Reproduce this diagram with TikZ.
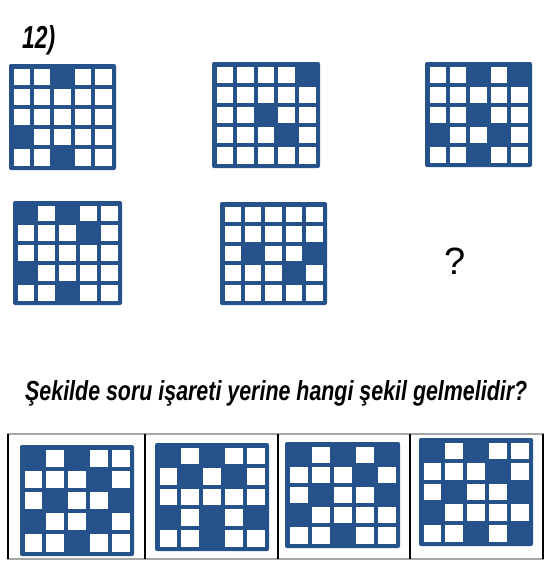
\documentclass[tikz,border=0pt]{standalone}
\usepackage{fontspec}
\setmainfont{Liberation Sans}
\definecolor{qblue}{RGB}{38,82,140}

% grid: left, top, width, height, filled cells (row/col)
\newcommand{\cellgrid}[5]{%
  \fill[qblue, rounded corners=2] (#1,-#2) rectangle ++(#3,-#4);
  \pgfmathsetmacro\qcw{(#3-25)/5}
  \pgfmathsetmacro\qch{(#4-25)/5}
  \foreach \qr in {1,...,5}
    \foreach \qc in {1,...,5}
      \fill[white] ({#1+4.5+(\qc-1)*(\qcw+4)},{-#2-4.5-(\qr-1)*(\qch+4)}) rectangle ++(\qcw,-\qch);
  \foreach \qr/\qc in {#5}
    \fill[qblue] ({#1+4.5+(\qc-1)*(\qcw+4)-0.5},{-#2-4.5-(\qr-1)*(\qch+4)+0.5}) rectangle ++(\qcw+1,-\qch-1);
}

\begin{document}
\begin{tikzpicture}[x=1pt, y=1pt]
    \useasboundingbox (0,0) rectangle (547,-568);
    \node[anchor=base west, inner sep=0] (num) at (22,-48)
        {\resizebox{33pt}{23pt}{\bfseries\itshape 12)}};
    % the sequence
    \cellgrid{9}{64}{107}{106}{1/3,4/1,5/3}
    \cellgrid{212}{62}{108}{106}{1/5,3/3,4/4}
    \cellgrid{425}{62}{107}{105}{1/3,1/5,3/3,4/1,4/4,5/3}
    \cellgrid{13}{201}{109}{104}{1/1,1/3,2/4,4/1,5/3}
    \cellgrid{220}{202}{107}{103}{3/2,3/5,4/4}
    \node[inner sep=0] (qmark) at (455,-261) {\fontsize{38}{38}\selectfont ?};
    \node[anchor=base west, inner sep=0] (question) at (25,-400)
        {\resizebox{502pt}{20pt}{\bfseries\itshape Şekilde soru işareti yerine hangi şekil gelmelidir?}};
    % the choices
    \draw[gray!70, line width=1.2] (8,-434) rectangle (543,-559);
    \foreach \x in {8,145,278,410,543}
        \draw[black, line width=1.2] (\x,-434) -- (\x,-559);
    \cellgrid{20}{445}{114}{111}{1/1,1/3,2/4,3/2,3/5,4/1,4/4,5/3}
    \cellgrid{155}{443}{114}{108}{1/1,1/3,2/2,2/4,4/1,4/3,4/5,5/3}
    \cellgrid{285}{442}{115}{106}{1/1,1/3,1/5,2/4,3/2,3/5,4/1,5/3}
    \cellgrid{419}{438}{114}{108}{1/1,1/3,2/4,3/2,3/5,4/1,5/3,5/5}
\end{tikzpicture}
\end{document}
